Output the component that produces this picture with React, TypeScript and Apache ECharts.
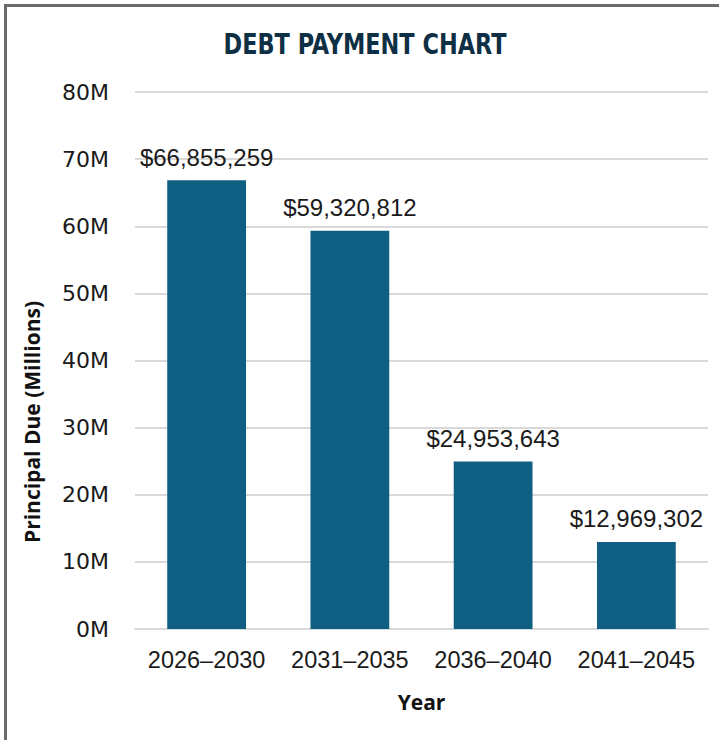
import React, { useEffect, useRef } from "react";
import * as echarts from "echarts";

const categories = ["2026–2030", "2031–2035", "2036–2040", "2041–2045"];
const principal = [66855259, 59320812, 24953643, 12969302];
const titleText = "DEBT PAYMENT CHART";
const yAxisTitle = "Principal Due (Millions)";
const xAxisTitle = "Year";

export default function App() {
  const ref = useRef<HTMLDivElement>(null);
  useEffect(() => {
    if (!ref.current) return;
    const chart = echarts.init(ref.current, null, { renderer: "svg" });
    chart.setOption({
      animation: false,
      backgroundColor: "#ffffff",
      graphic: [
        {
          type: "rect",
          shape: { x: 5.5, y: 5.5, width: 900, height: 900 },
          style: { fill: "none", stroke: "#6b6b6b", lineWidth: 3 },
          silent: true,
        },
        {
          type: "text",
          x: 365,
          y: 44,
          scaleX: 0.89,
          style: {
            text: titleText,
            font: "bold 28px 'DejaVu Sans Condensed'",
            fill: "#0e2f44",
            align: "center",
            verticalAlign: "middle",
          },
        },
        {
          type: "text",
          x: 32,
          y: 422,
          rotation: Math.PI / 2,
          style: {
            text: yAxisTitle,
            font: "bold 21px 'Open Sans'",
            fill: "#111111",
            align: "center",
            verticalAlign: "middle",
          },
        },
      ],
      grid: { left: 135, right: 11, top: 92, bottom: 111, containLabel: false },
      xAxis: {
        type: "category",
        data: categories,
        name: xAxisTitle,
        nameLocation: "middle",
        nameGap: 62,
        nameTextStyle: { fontFamily: "Open Sans", fontWeight: "bold", fontSize: 21, color: "#111111" },
        axisLine: { lineStyle: { color: "#d9d9d9", width: 2 } },
        axisTick: { show: false },
        axisLabel: {
          interval: 0,
          hideOverlap: false,
          fontFamily: "Liberation Sans",
          fontSize: 23.5,
          color: "#1a1a1a",
          margin: 19,
        },
      },
      yAxis: {
        type: "value",
        min: 0,
        max: 80000000,
        interval: 10000000,
        axisLine: { show: false },
        axisTick: { show: false },
        splitLine: { lineStyle: { color: "#d9d9d9", width: 2 } },
        axisLabel: {
          fontFamily: "DejaVu Sans",
          fontSize: 22,
          color: "#1a1a1a",
          margin: 26,
          formatter: (v: number) => `${v / 1000000}M`,
        },
      },
      series: [
        {
          type: "bar",
          data: principal,
          barWidth: "55%",
          itemStyle: { color: "#0f5f82" },
          label: {
            show: true,
            position: "top",
            distance: 11,
            fontFamily: "Liberation Sans",
            fontSize: 24,
            color: "#1a1a1a",
            formatter: (p: any) => "$" + Number(p.value).toLocaleString("en-US"),
          },
        },
      ],
    });
    return () => chart.dispose();
  }, []);
  return (
    <div
      ref={ref}
      style={{ position: "fixed", left: 0, top: 0, width: 719, height: 740 }}
    />
  );
}
